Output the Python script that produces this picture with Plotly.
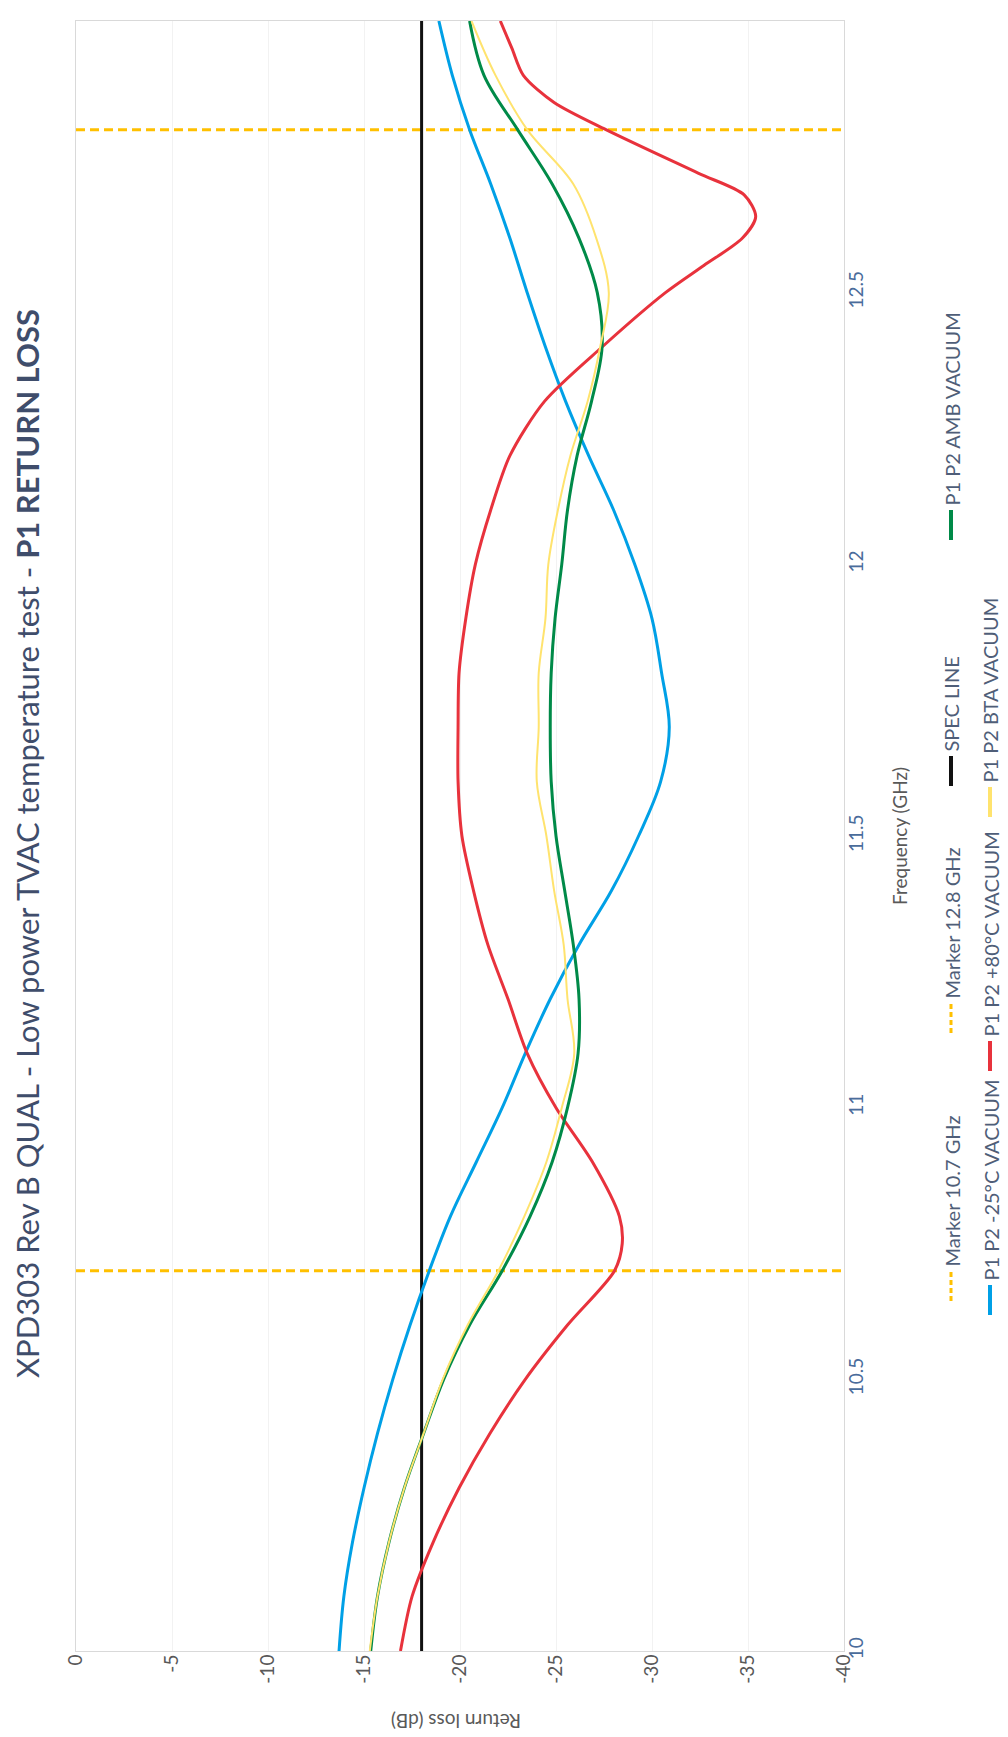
import plotly.graph_objects as go

# ---------------- data ----------------
freq_ghz = [10.0, 10.1, 10.2, 10.3, 10.4, 10.5, 10.6, 10.7, 10.8, 10.9,
            11.0, 11.1, 11.2, 11.3, 11.4, 11.5, 11.6, 11.7, 11.8, 11.9,
            12.0, 12.1, 12.2, 12.3, 12.4, 12.5, 12.6, 12.7, 12.8, 12.9, 13.0]

rl_minus25 = [-13.7, -13.95, -14.4, -15.0, -15.7, -16.5, -17.4, -18.4, -19.5, -20.85,
              -22.2, -23.4, -24.7, -26.2, -27.9, -29.3, -30.45, -30.9, -30.5, -30.0,
              -29.1, -28.0, -26.7, -25.5, -24.45, -23.5, -22.6, -21.6, -20.5, -19.6, -18.9]

rl_amb = [-15.35, -15.7, -16.3, -17.1, -18.1, -19.15, -20.5, -22.2, -23.65, -24.8,
          -25.6, -26.15, -26.2, -25.9, -25.45, -25.0, -24.75, -24.7, -24.75, -24.95,
          -25.3, -25.6, -26.1, -26.85, -27.4, -27.15, -26.2, -24.8, -23.0, -21.25, -20.5]

rl_bta = [-15.3, -15.7, -16.3, -17.1, -18.1, -19.1, -20.4, -22.0, -23.35, -24.5,
          -25.3, -25.95, -25.6, -25.4, -24.9, -24.5, -24.0, -24.1, -24.1, -24.45,
          -24.6, -25.1, -25.75, -26.65, -27.3, -27.75, -27.1, -25.9, -23.5, -21.85, -20.6]

freq_red = [10.0, 10.1, 10.2, 10.3, 10.4, 10.5, 10.6, 10.7, 10.75, 10.8, 10.9,
            11.0, 11.1, 11.2, 11.3, 11.4, 11.5, 11.6, 11.7, 11.8, 11.9,
            12.0, 12.1, 12.2, 12.3, 12.4, 12.5, 12.55, 12.6, 12.64, 12.68, 12.72,
            12.8, 12.85, 12.9, 12.95, 13.0]
rl_plus80 = [-16.9, -17.5, -18.6, -19.95, -21.55, -23.4, -25.6, -28.05, -28.45, -28.3, -26.9,
             -25.0, -23.5, -22.5, -21.45, -20.7, -20.1, -19.9, -19.9, -19.95, -20.3,
             -20.8, -21.6, -22.6, -24.4, -27.4, -30.7, -32.7, -34.7, -35.4, -34.8, -32.4,
             -27.6, -24.9, -23.3, -22.7, -22.1]

spec_level_db = -18.0
marker_freqs = [10.7, 12.8]
marker_names = ["Marker 10.7 GHz", "Marker 12.8 GHz"]

rl_range = [0, -40]
rl_ticks = [0, -5, -10, -15, -20, -25, -30, -35, -40]
freq_ticks = [10, 10.5, 11, 11.5, 12, 12.5, 13]
freq_tick_labels = ["10", "10.5", "11", "11.5", "12", "12.5", "13"]

title_main = "XPD303 Rev B QUAL - Low power TVAC temperature test - "
title_bold = "P1 RETURN LOSS"
x_title = "Return loss (dB)"
y_title = "Frequency (GHz)"

# ---------------- styles ----------------
FONT = "Lato, Calibri, 'Open Sans', sans-serif"
C_MARK = "#FFC000"
C_SPEC = "#111111"
C_BLUE = "#00A0E6"
C_RED = "#E8323C"
C_GREEN = "#008A48"
C_YELL = "#FFE36E"
C_TXT = "#4F5E78"

W, H = 1008, 1737
PL, PR, PT, PB = 68, 836, 13, 1643


def px_x(x):
    return (x - PL) / (PR - PL)


def px_y(y):
    return (PB - y) / (PB - PT)


fig = go.Figure()

# marker lines (horizontal because the chart is rotated)
for f, name in zip(marker_freqs, marker_names):
    fig.add_trace(go.Scatter(x=rl_range, y=[f, f], mode="lines", name=name,
                             line=dict(color=C_MARK, width=3, dash="9px,5px")))

fig.add_trace(go.Scatter(x=[spec_level_db, spec_level_db], y=[freq_ghz[0], freq_ghz[-1]],
                         mode="lines", name="SPEC LINE", line=dict(color=C_SPEC, width=3)))

fig.add_trace(go.Scatter(x=rl_minus25, y=freq_ghz, mode="lines", name="P1 P2 -25°C VACUUM",
                         line=dict(color=C_BLUE, width=3, shape="spline", smoothing=1.0)))
fig.add_trace(go.Scatter(x=rl_plus80, y=freq_red, mode="lines", name="P1 P2 +80°C VACUUM",
                         line=dict(color=C_RED, width=3, shape="spline", smoothing=0.8)))
fig.add_trace(go.Scatter(x=rl_amb, y=freq_ghz, mode="lines", name="P1 P2 AMB VACUUM",
                         line=dict(color=C_GREEN, width=3, shape="spline", smoothing=1.0)))
fig.add_trace(go.Scatter(x=rl_bta, y=freq_ghz, mode="lines", name="P1 P2 BTA VACUUM",
                         line=dict(color=C_YELL, width=2, shape="spline", smoothing=1.0)))

# ---------------- rotated legend ----------------
COL1, COL2 = 943, 982
legend_items = [
    # name, color, dash, width, column x (px), line bottom y (px)
    (marker_names[0], C_MARK, "5px,3px", 3, COL1, 1293),
    (marker_names[1], C_MARK, "5px,3px", 3, COL1, 1025),
    ("SPEC LINE", C_SPEC, None, 4, COL1, 778),
    ("P1 P2 AMB VACUUM", C_GREEN, None, 4, COL1, 532),
    ("P1 P2 -25°C VACUUM", C_BLUE, None, 4, COL2, 1307),
    ("P1 P2 +80°C VACUUM", C_RED, None, 4, COL2, 1063),
    ("P1 P2 BTA VACUUM", C_YELL, None, 4, COL2, 809),
]
SAMPLE = 30
shapes = []
annotations = []
for name, col, dash, wd, cx, yb in legend_items:
    ln = dict(color=col, width=wd)
    if dash:
        ln["dash"] = dash
    shapes.append(dict(type="line", xref="paper", yref="paper",
                       x0=px_x(cx), x1=px_x(cx), y0=px_y(yb), y1=px_y(yb - SAMPLE), line=ln))
    annotations.append(dict(text=name, xref="paper", yref="paper", x=px_x(cx), y=px_y(yb - SAMPLE - 3),
                            xanchor="center", yanchor="bottom", textangle=-90, showarrow=False,
                            borderpad=0,
                            font=dict(family=FONT, size=20, color=C_TXT)))

annotations.append(dict(text=title_main + "<b>" + title_bold + "</b>", xref="paper", yref="paper",
                        x=px_x(19), y=px_y(836), xanchor="center", yanchor="middle", textangle=-90,
                        showarrow=False, font=dict(family=FONT, size=31, color="#3F4D6B")))
annotations.append(dict(text=x_title, xref="paper", yref="paper", x=px_x(448), y=px_y(1714),
                        xanchor="center", yanchor="middle", textangle=180, showarrow=False,
                        font=dict(family=FONT, size=19, color="#595959")))
annotations.append(dict(text=y_title, xref="paper", yref="paper", x=px_x(891), y=px_y(828),
                        xanchor="center", yanchor="middle", textangle=-90, showarrow=False,
                        font=dict(family=FONT, size=19, color="#595959")))

fig.update_layout(
    width=W, height=H, autosize=False,
    margin=dict(l=PL, r=W - PR, t=PT, b=H - PB, pad=0),
    paper_bgcolor="white", plot_bgcolor="white",
    showlegend=False,
    shapes=shapes, annotations=annotations,
    font=dict(family=FONT, color="#595959"),
    xaxis=dict(range=rl_range, tickvals=rl_ticks, ticktext=[str(v) for v in rl_ticks],
               tickangle=-90, ticks="", ticklabelstandoff=-5, showgrid=True,
               gridcolor="#F2F2F2", gridwidth=1, zeroline=False, showline=True,
               linecolor="#D9D9D9", mirror=True,
               tickfont=dict(family=FONT, size=19, color="#595959")),
    yaxis=dict(range=[freq_ticks[0], freq_ticks[-1]], tickvals=freq_ticks, ticktext=freq_tick_labels,
               side="right", tickangle=-90, ticks="", ticklabelstandoff=-5, showgrid=False,
               zeroline=False, showline=True, linecolor="#D9D9D9", mirror=True,
               tickfont=dict(family=FONT, size=19, color="#4A6C9B")),
)

fig.write_html("out.html")
